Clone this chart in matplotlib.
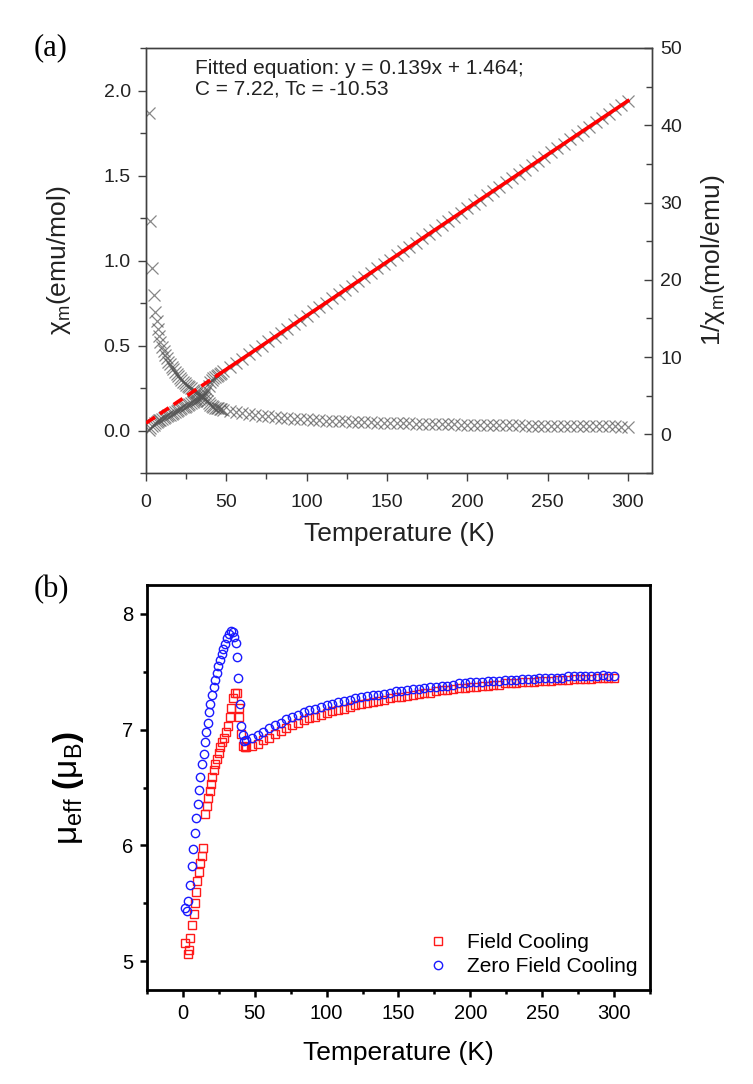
import matplotlib
matplotlib.use("Agg")
import matplotlib.pyplot as plt
from matplotlib.ticker import MultipleLocator

plt.rcParams['font.family'] = ['Liberation Sans', 'DejaVu Sans']
plt.rcParams['mathtext.fontset'] = 'custom'
plt.rcParams['mathtext.rm'] = 'Liberation Sans'
plt.rcParams['mathtext.it'] = 'Liberation Sans:italic'
plt.rcParams['mathtext.bf'] = 'Liberation Sans:bold'

# ---- panel (a): susceptibility ----
T_low = [1.9, 2.2, 3.8, 5, 5.9, 6.7, 7.5, 8.3, 9, 10, 11, 12, 13, 14, 15, 16, 17, 18, 19, 20,
         21, 22, 23, 24, 25, 26, 27, 28, 29, 30, 31, 32, 33, 34, 35, 36, 37, 38, 39, 40,
         41, 42, 43, 44, 45, 46, 47, 48]
chi_low = [1.87, 1.23, 0.955, 0.80, 0.70, 0.645, 0.60, 0.555, 0.52, 0.49, 0.465, 0.445, 0.425,
           0.405, 0.39, 0.375, 0.36, 0.345, 0.33, 0.318, 0.307, 0.297, 0.287, 0.278, 0.27,
           0.262, 0.255, 0.248, 0.241, 0.235, 0.229, 0.223, 0.217, 0.211, 0.204, 0.196, 0.186,
           0.173, 0.16, 0.148, 0.142, 0.137, 0.134, 0.132, 0.130, 0.127, 0.125, 0.123]
inv_low = [0.53, 0.81, 1.05, 1.25, 1.43, 1.55, 1.67, 1.80, 1.92, 2.04, 2.15, 2.25, 2.35, 2.47,
           2.56, 2.67, 2.78, 2.90, 3.03, 3.14, 3.26, 3.37, 3.48, 3.60, 3.70, 3.82, 3.92, 4.03,
           4.15, 4.26, 4.37, 4.48, 4.61, 4.74, 4.90, 5.10, 5.38, 5.78, 6.25, 6.76, 7.04, 7.30,
           7.44, 7.58, 7.72, 7.86, 8.00, 8.14]

T_high = [52, 56, 60, 64, 68, 72, 76, 80, 84, 88, 92, 96, 100, 104, 108, 112, 116, 120, 124,
          128, 132, 136, 140, 144, 148, 152, 156, 160, 164, 168, 172, 176, 180, 184, 188, 192,
          196, 200, 204, 208, 212, 216, 220, 224, 228, 232, 236, 240, 244, 248, 252, 256, 260,
          264, 268, 272, 276, 280, 284, 288, 292, 296, 300]
chi_high = [0.115, 0.108, 0.102, 0.0965, 0.0916, 0.0872, 0.0831, 0.0795, 0.0761, 0.0730, 0.0702,
            0.0675, 0.0651, 0.0628, 0.0607, 0.0587, 0.0569, 0.0551, 0.0535, 0.0519, 0.0505,
            0.0491, 0.0478, 0.0466, 0.0454, 0.0443, 0.0432, 0.0422, 0.0412, 0.0403, 0.0394,
            0.0386, 0.0378, 0.0370, 0.0362, 0.0355, 0.0348, 0.0342, 0.0335, 0.0329, 0.0323,
            0.0318, 0.0312, 0.0307, 0.0302, 0.0297, 0.0292, 0.0287, 0.0283, 0.0278, 0.0274,
            0.0270, 0.0266, 0.0262, 0.0258, 0.0255, 0.0251, 0.0248, 0.0244, 0.0241, 0.0238,
            0.0235, 0.0232]
inv_high = [8.69, 9.25, 9.80, 10.36, 10.92, 11.47, 12.03, 12.58, 13.14, 13.70, 14.25, 14.81,
            15.36, 15.92, 16.48, 17.03, 17.59, 18.14, 18.70, 19.26, 19.81, 20.37, 20.92, 21.48,
            22.04, 22.59, 23.15, 23.70, 24.26, 24.82, 25.37, 25.93, 26.48, 27.04, 27.60, 28.15,
            28.71, 29.26, 29.82, 30.38, 30.93, 31.49, 32.04, 32.60, 33.16, 33.71, 34.27, 34.82,
            35.38, 35.94, 36.49, 37.05, 37.60, 38.16, 38.72, 39.27, 39.83, 40.38, 40.94, 41.50,
            42.05, 42.61, 43.16]

# linear fit y = 0.139x + 1.464 (dashed extrapolation, solid fitted range)
fit_T_dash = [0, 45]
fit_y_dash = [1.46, 7.72]
fit_T_solid = [45, 300]
fit_y_solid = [7.72, 43.16]

# ---- panel (b): effective moment ----
fc_T = [1.4, 3.2, 4.0, 5.2, 6.4, 7.5, 8.4, 9.3, 10.1, 11.0, 12.1, 13.0, 13.9, 15.2, 16.8, 17.7,
        18.6, 19.5, 20.5, 21.4, 22.6, 23.7, 24.9, 26.1, 27.5, 28.9, 30.3, 31.7, 32.6, 33.5,
        34.9, 36.0, 37.3, 38.7, 39.1, 40.1, 41.5, 43.0,
        44, 48, 52, 56, 60, 64, 68, 72, 76, 80, 84, 88, 92, 96, 100, 104, 108, 112, 116, 120,
        124, 128, 132, 136, 140, 144, 148, 152, 156, 160, 164, 168, 172, 176, 180, 184, 188,
        192, 196, 200, 204, 208, 212, 216, 220, 224, 228, 232, 236, 240, 244, 248, 252, 256,
        260, 264, 268, 272, 276, 280, 284, 288, 292, 296, 300]
fc_mu = [5.16, 5.06, 5.10, 5.20, 5.31, 5.41, 5.50, 5.60, 5.69, 5.77, 5.85, 5.91, 5.98, 6.27,
         6.34, 6.41, 6.47, 6.53, 6.59, 6.65, 6.70, 6.75, 6.80, 6.85, 6.89, 6.93, 6.98, 7.03,
         7.11, 7.19, 7.27, 7.32, 7.32, 7.19, 7.11, 6.96, 6.86, 6.85,
         6.85, 6.86, 6.88, 6.91, 6.93, 6.96, 6.99, 7.01, 7.04, 7.06, 7.08, 7.10, 7.11, 7.13,
         7.14, 7.16, 7.17, 7.18, 7.20, 7.21, 7.22, 7.23, 7.24, 7.25, 7.26, 7.27, 7.28, 7.28,
         7.29, 7.30, 7.31, 7.32, 7.32, 7.33, 7.34, 7.34, 7.35, 7.36, 7.36, 7.37, 7.37, 7.38,
         7.38, 7.39, 7.39, 7.40, 7.40, 7.40, 7.41, 7.41, 7.41, 7.42, 7.42, 7.42, 7.43, 7.43,
         7.43, 7.44, 7.44, 7.44, 7.44, 7.45, 7.45, 7.45, 7.45]
zfc_T = [1.7, 2.9, 3.8, 4.9, 6.1, 7.2, 8.1, 9.3, 10.5, 11.2, 12.1, 13.5, 14.4, 15.4, 16.3, 17.2,
         18.1, 19.1, 20.2, 21.4, 22.6, 23.5, 24.7, 25.8, 27.0, 28.2, 29.3, 30.5, 31.9, 33.3,
         34.9, 35.6, 36.6, 37.3, 38.2, 39.6, 40.5, 41.5, 42.4,
         44, 48, 52, 56, 60, 64, 68, 72, 76, 80, 84, 88, 92, 96, 100, 104, 108, 112, 116, 120,
         124, 128, 132, 136, 140, 144, 148, 152, 156, 160, 164, 168, 172, 176, 180, 184, 188,
         192, 196, 200, 204, 208, 212, 216, 220, 224, 228, 232, 236, 240, 244, 248, 252, 256,
         260, 264, 268, 272, 276, 280, 284, 288, 292, 296, 300]
zfc_mu = [5.46, 5.43, 5.52, 5.66, 5.82, 5.97, 6.11, 6.24, 6.36, 6.48, 6.59, 6.70, 6.79, 6.89,
          6.98, 7.06, 7.15, 7.22, 7.30, 7.37, 7.43, 7.49, 7.55, 7.60, 7.65, 7.70, 7.74, 7.79,
          7.83, 7.85, 7.84, 7.80, 7.75, 7.63, 7.45, 7.22, 7.03, 6.95, 6.90,
          6.91, 6.93, 6.95, 6.98, 7.01, 7.04, 7.06, 7.09, 7.11, 7.13, 7.15, 7.17, 7.18, 7.20,
          7.21, 7.22, 7.24, 7.25, 7.26, 7.27, 7.28, 7.29, 7.30, 7.30, 7.31, 7.32, 7.33, 7.33,
          7.34, 7.35, 7.35, 7.36, 7.37, 7.37, 7.38, 7.38, 7.39, 7.40, 7.40, 7.41, 7.41, 7.41,
          7.42, 7.42, 7.42, 7.43, 7.43, 7.43, 7.44, 7.44, 7.44, 7.45, 7.45, 7.45, 7.45, 7.45,
          7.46, 7.46, 7.46, 7.46, 7.46, 7.46, 7.47, 7.46, 7.46]

W, H = 753, 1084
fig = plt.figure(figsize=(W / 100, H / 100), dpi=100)

gray = '#404040'
txt = '#222222'

# ---------------- panel (a) ----------------
ax1 = fig.add_axes([146 / W, 1 - 473 / H, (652 - 146) / W, (473 - 48) / H])
ax2 = ax1.twinx()

mk = dict(marker='x', linestyle='none', color='#555555', markersize=8, mew=0.9, alpha=0.7)
ax1.plot(T_low + T_high, chi_low + chi_high, **mk)
ax2.plot(T_low + T_high, inv_low + inv_high, **mk)
ax2.plot(fit_T_dash, fit_y_dash, color='red', lw=2.6, ls=(0, (3, 1.6)), zorder=5)
ax2.plot(fit_T_solid, fit_y_solid, color='red', lw=2.6, zorder=5)

ax1.set_xlim(0, 315)
ax1.set_ylim(-0.25, 2.25)
ax2.set_ylim(-5, 50)
ax1.xaxis.set_major_locator(MultipleLocator(50))
ax1.xaxis.set_minor_locator(MultipleLocator(25))
ax1.yaxis.set_major_locator(MultipleLocator(0.5))
ax1.yaxis.set_minor_locator(MultipleLocator(0.25))
ax2.yaxis.set_major_locator(MultipleLocator(10))
ax2.yaxis.set_minor_locator(MultipleLocator(5))
ax1.yaxis.set_major_formatter(matplotlib.ticker.FormatStrFormatter('%.1f'))

for ax in (ax1, ax2):
    for s in ax.spines.values():
        s.set_color(gray)
        s.set_linewidth(1.0)
ax1.tick_params(which='both', direction='out', colors=gray, labelcolor=txt, labelsize=14, width=1.0)
ax1.tick_params(which='major', length=6, pad=5)
ax1.tick_params(which='minor', length=4)
ax1.tick_params(axis='x', which='major', pad=9)
ax2.tick_params(which='both', direction='in', colors=gray, labelcolor=txt, labelsize=14, width=1.0)
ax2.tick_params(which='major', length=6, pad=6)
ax2.tick_params(which='minor', length=4)

ax1.set_xlabel('Temperature (K)', fontsize=19, color=txt, labelpad=8)
ax1.set_ylabel('χ$_{\\rm m}$(emu/mol)', fontsize=19, color=txt, labelpad=22)
ax2.set_ylabel('1/χ$_{\\rm m}$(mol/emu)', fontsize=19, color=txt, labelpad=12)

ax1.text(0.097, 0.975, 'Fitted equation: y = 0.139x + 1.464;\nC = 7.22, Tc = -10.53',
         transform=ax1.transAxes, fontsize=15, color=txt, va='top', ha='left', linespacing=1.1)

fig.text(51 / W, 1 - 48 / H, '(a)', fontsize=22, family='Liberation Serif', ha='center', va='center')

# ---------------- panel (b) ----------------
ax3 = fig.add_axes([147 / W, 1 - 990 / H, (650 - 147) / W, (990 - 585) / H])
ax3.plot(fc_T, fc_mu, linestyle='none', marker='s', markersize=5.4, mfc='none', mec='#ff1a1a',
         mew=1.0, label='Field Cooling')
ax3.plot(zfc_T, zfc_mu, linestyle='none', marker='o', markersize=6, mfc='none', mec='#1a1aff',
         mew=1.0, label='Zero Field Cooling')

ax3.set_xlim(-25, 325)
ax3.set_ylim(4.75, 8.25)
ax3.xaxis.set_major_locator(MultipleLocator(50))
ax3.xaxis.set_minor_locator(MultipleLocator(25))
ax3.yaxis.set_major_locator(MultipleLocator(1))
ax3.yaxis.set_minor_locator(MultipleLocator(0.5))
for s in ax3.spines.values():
    s.set_linewidth(2.0)
    s.set_color('black')
ax3.tick_params(which='both', direction='out', width=1.8, labelsize=14.5, colors='black')
ax3.tick_params(which='major', length=5, pad=5)
ax3.tick_params(which='minor', length=3)

ax3.set_xlabel('Temperature (K)', fontsize=19, labelpad=13)
ax3.set_ylabel('μ$_{\\rm eff}$ $\\mathbf{(}$μ$_{\\rm B}$$\\mathbf{)}$', fontsize=24, labelpad=26)

ax3.legend(loc='lower left', bbox_to_anchor=(0.557, 0.035), frameon=False, fontsize=15,
           handlelength=1.0, handletextpad=0.9, borderpad=0, borderaxespad=0,
           labelspacing=0.22, numpoints=1)

fig.text(51 / W, 1 - 590 / H, '(b)', fontsize=22, family='Liberation Serif', ha='center', va='center')

fig.savefig('out.png', dpi=100)
